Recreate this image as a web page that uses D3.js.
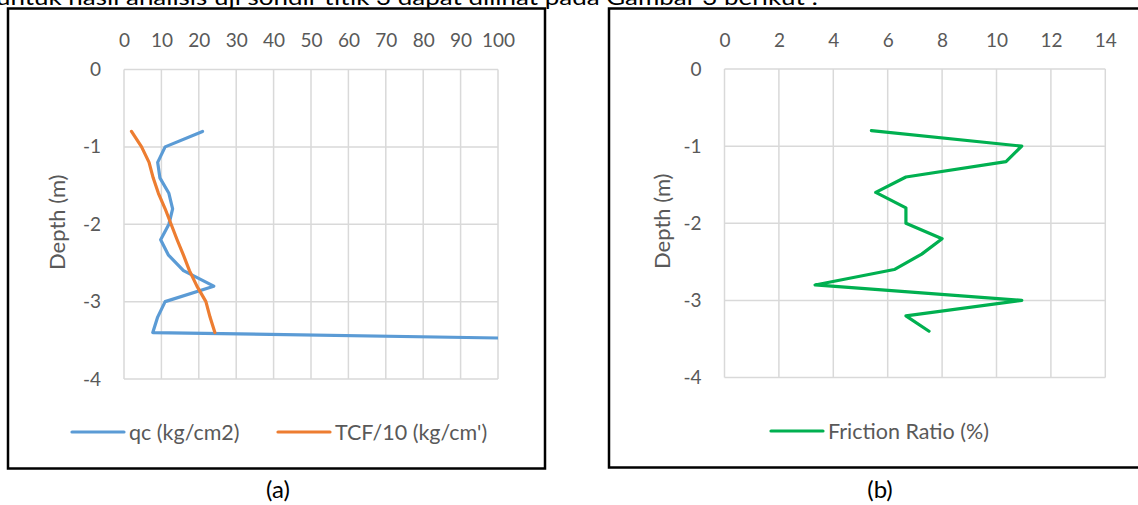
<!DOCTYPE html>
<html>
<head>
<meta charset="utf-8">
<script src="https://cdn.jsdelivr.net/npm/d3@7"></script>
<style>
  html, body { margin: 0; padding: 0; background: #fff; }
  svg { display: block; }
  text { font-family: Lato, "Open Sans", sans-serif; }
</style>
</head>
<body>
<svg id="chart" width="1138" height="505"></svg>
<script>
// ---------- data ----------
const depths     = [-0.8, -1.0, -1.2, -1.4, -1.6, -1.8, -2.0, -2.2, -2.4, -2.6, -2.8, -3.0, -3.2, -3.4];
const qcValues   = [21, 11, 9, 9.6, 12, 13, 12, 9.8, 11.9, 15.9, 24, 11, 9, 7.7];
const qcLastDepth = -3.6;   // final reading, beyond the 100 axis limit
const qcLastValue = 271;
const tcfValues  = [2, 4.7, 6.7, 7.8, 9.2, 11, 12.6, 14.2, 15.9, 17.5, 19.5, 21.9, 23, 24.3];
const frValues   = [5.4, 10.93, 10.35, 6.67, 5.56, 6.67, 6.67, 8.0, 7.25, 6.24, 3.33, 10.93, 6.67, 7.52];
const depthTicks = [0, -1, -2, -3, -4];
const qcTicks    = [0, 10, 20, 30, 40, 50, 60, 70, 80, 90, 100];
const frTicks    = [0, 2, 4, 6, 8, 10, 12, 14];

const svg = d3.select("#chart");
const GRAY = "#595959", GRID = "#d9d9d9";
const fmt = d => String(d);

// top text (partly cut off by the page edge, as in the source)
svg.append("text").attr("x", -4).attr("y", 5)
  .attr("font-size", 21).attr("fill", "#000")
  .attr("textLength", 822).attr("lengthAdjust", "spacingAndGlyphs")
  .text("untuk hasil analisis uji sondir titik 3 dapat dilihat pada Gambar 3 berikut :");

// outer boxes
svg.append("rect").attr("x", 8).attr("y", 8.5).attr("width", 537).attr("height", 460)
  .attr("fill", "none").attr("stroke", "#000").attr("stroke-width", 2.5);
svg.append("rect").attr("x", 609).attr("y", 8.5).attr("width", 560).attr("height", 459)
  .attr("fill", "none").attr("stroke", "#000").attr("stroke-width", 2.5);

// captions
svg.append("text").attr("x", 278).attr("y", 498).attr("text-anchor", "middle")
  .attr("font-size", 24).attr("fill", "#000").text("(a)");
svg.append("text").attr("x", 880).attr("y", 498).attr("text-anchor", "middle")
  .attr("font-size", 24).attr("fill", "#000").text("(b)");

function panel(cfg) {
  const x = d3.scaleLinear().domain(cfg.xDomain).range([cfg.x0, cfg.x1]);
  const y = d3.scaleLinear().domain([0, -4]).range([cfg.y0, cfg.y1]);
  const g = svg.append("g");

  // vertical gridlines
  g.selectAll(".vg").data(cfg.xTicks).enter().append("line")
    .attr("x1", d => x(d)).attr("x2", d => x(d))
    .attr("y1", cfg.y0).attr("y2", cfg.y1)
    .attr("stroke", GRID).attr("stroke-width", 1.5);
  // horizontal gridlines
  g.selectAll(".hg").data(depthTicks).enter().append("line")
    .attr("x1", cfg.x0).attr("x2", cfg.x1)
    .attr("y1", d => y(d)).attr("y2", d => y(d))
    .attr("stroke", GRID).attr("stroke-width", 1.5);

  // top axis labels
  const xa = d3.axisTop(x).tickValues(cfg.xTicks).tickSize(0).tickPadding(0).tickFormat(fmt);
  const gx = g.append("g").attr("transform", `translate(0,${cfg.y0 - 22})`).call(xa);
  gx.select(".domain").remove();
  gx.selectAll("text").attr("font-size", 19).attr("fill", GRAY)
    .attr("font-family", "Lato, sans-serif").attr("dy", "0.35em").attr("y", -7);

  // left axis labels
  const ya = d3.axisLeft(y).tickValues(depthTicks).tickSize(0).tickPadding(0).tickFormat(fmt);
  const gy = g.append("g").attr("transform", `translate(${cfg.x0 - 23},0)`).call(ya);
  gy.select(".domain").remove();
  gy.selectAll("text").attr("font-size", 19).attr("fill", GRAY)
    .attr("font-family", "Lato, sans-serif").attr("x", 0);

  // axis title
  g.append("text").attr("transform", `translate(${cfg.titleX},${(cfg.y0 + cfg.y1) / 2 - 2}) rotate(-90)`)
    .attr("text-anchor", "middle").attr("dy", "0.35em")
    .attr("font-size", 22).attr("fill", GRAY).text("Depth (m)");

  // clip
  const cid = "clip" + cfg.id;
  svg.append("clipPath").attr("id", cid).append("rect")
    .attr("x", cfg.x0).attr("y", cfg.y0 - 5).attr("width", cfg.x1 - cfg.x0).attr("height", cfg.y1 - cfg.y0 + 10);

  const line = d3.line().x(d => x(d[0])).y(d => y(d[1]));
  cfg.series.forEach(s => {
    g.append("path").datum(s.points).attr("d", line)
      .attr("fill", "none").attr("stroke", s.color).attr("stroke-width", 3.2)
      .attr("stroke-linejoin", "round").attr("stroke-linecap", "round")
      .attr("clip-path", `url(#${cid})`);
  });

  // legend
  cfg.legend.forEach(l => {
    g.append("line").attr("x1", l.lx).attr("x2", l.lx + 52).attr("y1", cfg.legY).attr("y2", cfg.legY)
      .attr("stroke", l.color).attr("stroke-width", 3.2).attr("stroke-linecap", "round");
    g.append("text").attr("x", l.lx + 57).attr("y", cfg.legY).attr("dy", "0.35em")
      .attr("font-size", 21.5).attr("fill", GRAY).text(l.label);
  });
}

const qcPts  = depths.map((d, i) => [qcValues[i], d]).concat([[qcLastValue, qcLastDepth]]);
const tcfPts = depths.map((d, i) => [tcfValues[i], d]);
const frPts  = depths.map((d, i) => [frValues[i], d]);

panel({
  id: "a", xDomain: [0, 100], xTicks: qcTicks,
  x0: 124, x1: 498, y0: 69.5, y1: 379, titleX: 57, legY: 432,
  series: [
    { points: qcPts, color: "#5B9BD5" },
    { points: tcfPts, color: "#ED7D31" }
  ],
  legend: [
    { lx: 72, color: "#5B9BD5", label: "qc (kg/cm2)" },
    { lx: 278, color: "#ED7D31", label: "TCF/10 (kg/cm')" }
  ]
});

panel({
  id: "b", xDomain: [0, 14], xTicks: frTicks,
  x0: 724.5, x1: 1105.3, y0: 69, y1: 377.5, titleX: 662, legY: 431,
  series: [ { points: frPts, color: "#00B050" } ],
  legend: [ { lx: 771, color: "#00B050", label: "Friction Ratio (%)" } ]
});
</script>
</body>
</html>
